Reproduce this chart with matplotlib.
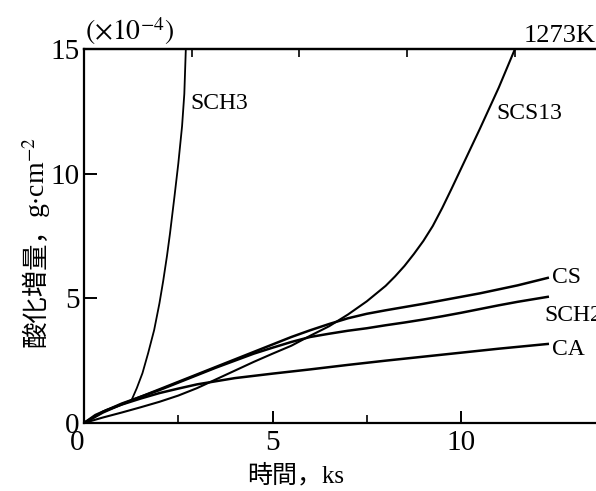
import matplotlib
matplotlib.use("Agg")
import matplotlib.pyplot as plt

plt.rcParams['font.family'] = ['Liberation Serif', 'Noto Sans CJK JP', 'DejaVu Serif']
plt.rcParams['mathtext.fontset'] = 'stix'

# curves: time (ks) vs mass gain (x1e-4 g/cm2)
sch3_t = [0, 0.5, 1.0, 1.25, 1.4, 1.55, 1.7, 1.86, 2.0, 2.1, 2.2, 2.28, 2.4, 2.5, 2.6, 2.66, 2.7]
sch3_w = [0, 0.45, 0.75, 0.88, 1.4, 2.0, 2.8, 3.73, 4.8, 5.7, 6.7, 7.6, 9.1, 10.4, 11.9, 13.2, 15.0]

scs13_t = [0, 0.5, 1, 1.5, 2, 2.5, 3, 3.5, 4, 4.5, 5, 5.5, 6, 6.5, 7, 7.5, 8, 8.25, 8.5, 8.75, 9,
           9.25, 9.5, 9.75, 10, 10.5, 11, 11.43]
scs13_w = [0, 0.22, 0.42, 0.63, 0.85, 1.1, 1.4, 1.75, 2.1, 2.45, 2.78, 3.1, 3.5, 3.88, 4.35, 4.88,
           5.5, 5.88, 6.3, 6.78, 7.3, 7.9, 8.62, 9.4, 10.2, 11.8, 13.45, 15.0]

cs_t = [0, 0.5, 1, 1.5, 2, 2.5, 3, 3.5, 4, 4.5, 5, 5.5, 6, 6.5, 7, 7.5, 8, 8.5, 9, 9.5, 10, 10.5, 11, 11.5, 12.3]
cs_w = [0, 0.42, 0.75, 1.05, 1.35, 1.65, 1.95, 2.25, 2.55, 2.85, 3.15, 3.45, 3.72, 3.97, 4.2, 4.38,
        4.52, 4.65, 4.78, 4.92, 5.06, 5.2, 5.36, 5.52, 5.82]

sch2_t = [0, 0.5, 1, 1.5, 2, 2.5, 3, 3.5, 4, 4.5, 5, 5.5, 6, 6.5, 7, 7.5, 8, 8.5, 9, 9.5, 10, 10.5, 11, 11.5, 12.3]
sch2_w = [0, 0.45, 0.78, 1.05, 1.32, 1.62, 1.92, 2.22, 2.5, 2.78, 3.02, 3.25, 3.45, 3.58, 3.7, 3.8,
          3.92, 4.03, 4.15, 4.28, 4.42, 4.57, 4.72, 4.86, 5.06]

ca_t = [0, 0.3, 0.6, 1, 1.5, 2, 2.5, 3, 4, 5, 6, 7, 8, 9, 10, 11, 12.3]
ca_w = [0, 0.32, 0.52, 0.74, 0.98, 1.2, 1.38, 1.55, 1.8, 1.98, 2.15, 2.33, 2.5, 2.66, 2.82, 2.98, 3.17]

x_ticks = [0, 5, 10]
x_minor = [2.5, 7.5]
y_ticks = [0, 5, 10, 15]
top_ticks = [2.857, 5.714, 8.571, 11.43]

fig = plt.figure(figsize=(5.96, 4.91), dpi=100)
ax = fig.add_axes([0.141, 0.1385, 0.859, 0.7617])

ax.plot(sch3_t, sch3_w, color='black', lw=1.3)
ax.plot(scs13_t, scs13_w, color='black', lw=1.5)
ax.plot(cs_t, cs_w, color='black', lw=1.8)
ax.plot(sch2_t, sch2_w, color='black', lw=1.8)
ax.plot(ca_t, ca_w, color='black', lw=1.8)

ax.set_xlim(0, 13.58)
ax.set_ylim(0, 15)

ax.set_xticks(x_ticks)
ax.set_xticks(x_minor, minor=True)
ax.set_yticks(y_ticks)
ax.tick_params(axis='both', which='major', direction='in', length=9, width=1.4, labelsize=21)
ax.tick_params(axis='y', which='major', pad=3)
ax.tick_params(axis='x', which='major', pad=5)
ax.tick_params(axis='x', which='minor', direction='in', length=6, width=1.2)
ax.get_xticklabels()[0].set_horizontalalignment('right')

for s in ['left', 'bottom', 'top']:
    ax.spines[s].set_linewidth(1.6)
ax.spines['right'].set_visible(False)

sec = ax.secondary_xaxis('top')
sec.set_xticks(top_ticks)
sec.set_xticklabels([])
sec.tick_params(direction='in', length=6, width=1.2)
sec.spines['top'].set_linewidth(1.6)

# curve labels
lab = dict(fontsize=17, color='black')
ax.text(2.81, 12.6, 'SCH3', **lab)
ax.text(10.95, 12.2, 'SCS13', **lab)
ax.text(12.4, 5.85, 'CS', va='center', **lab)
ax.text(12.2, 4.3, 'SCH2', va='center', **lab)
ax.text(12.4, 2.95, 'CA', va='center', **lab)

fig.text(0.143, 0.905, r'$(\times10^{-4})$', fontsize=20, ha='left', va='bottom')
fig.text(0.999, 0.905, '1273K', fontsize=19, ha='right', va='bottom')

ax.set_xlabel('時間，ks', fontsize=18)
ax.xaxis.set_label_coords(0.414, -0.11)

fig.text(0.06, 0.293, '酸化増量，', fontsize=19, rotation=90, ha='center', va='bottom',
         family=['Noto Sans CJK JP', 'DejaVu Sans'])
fig.text(0.062, 0.555, r'g$\cdot$cm$^{-2}$', fontsize=20, rotation=90, ha='center', va='bottom')

fig.savefig('out.png', dpi=100)
